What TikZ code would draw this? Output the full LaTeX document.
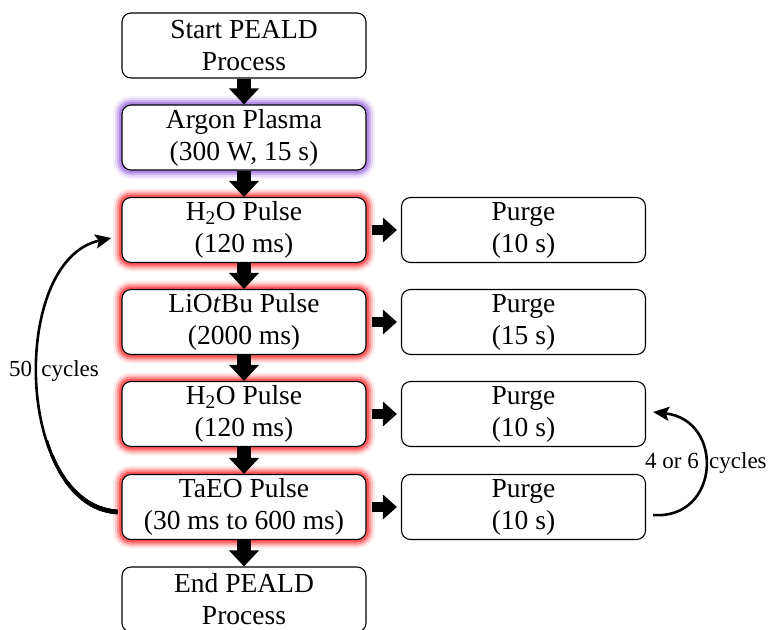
\documentclass[tikz,border=0pt]{standalone}
\usepackage{fontspec}
\setmainfont{Liberation Serif}
\usetikzlibrary{arrows.meta,calc}
\definecolor{glowred}{RGB}{255,55,55}
\definecolor{glowpurple}{RGB}{160,110,225}
\tikzset{
  stepbox/.style={draw=black, line width=1.1pt, fill=white, rounded corners=9pt,
    minimum width=244pt, minimum height=65pt, inner sep=0pt, align=center,
    font=\fontsize{27.5}{32}\selectfont},
  glow/.style={
    preaction={draw=#1, line width=18pt, draw opacity=0.10},
    preaction={draw=#1, line width=14pt, draw opacity=0.2},
    preaction={draw=#1, line width=10pt, draw opacity=0.35},
    preaction={draw=#1, line width=6pt, draw opacity=0.6}},
  flowdown/.style={line width=14pt, -{Triangle[length=16pt,width=29pt]}},
  flowright/.style={line width=10pt, -{Triangle[length=14pt,width=24pt]},
    shorten <=5pt, shorten >=4pt},
  cyclearrow/.style={line width=2.6pt, -{Stealth[length=16pt,width=14pt,inset=3pt]}},
  cyclelabel/.style={font=\fontsize{23}{26}\selectfont, inner sep=0pt}
}
\begin{document}
\begin{tikzpicture}[x=1pt,y=-1pt]
\useasboundingbox (0,0) rectangle (773,629);

% main sequence
\node[stepbox] (start) at (244,45.5) {Start PEALD\\Process};
\node[stepbox, glow=glowpurple] (argon) at (244,137.5) {Argon Plasma\\(300 W, 15 s)};
\node[stepbox, glow=glowred] (h2oa) at (244,230) {H\textsubscript{2}O Pulse\\(120 ms)};
\node[stepbox, glow=glowred] (li) at (244,322) {LiO\textit{t}Bu Pulse\\(2000 ms)};
\node[stepbox, glow=glowred] (h2ob) at (244,414) {H\textsubscript{2}O Pulse\\(120 ms)};
\node[stepbox, glow=glowred] (ta) at (244,507) {TaEO Pulse\\(30 ms to 600 ms)};
\node[stepbox] (finish) at (244,599.5) {End PEALD\\Process};

% purge steps
\node[stepbox] (p1) at (523.5,230) {Purge\\(10 s)};
\node[stepbox] (p2) at (523.5,322) {Purge\\(15 s)};
\node[stepbox] (p3) at (523.5,414) {Purge\\(10 s)};
\node[stepbox] (p4) at (523.5,507) {Purge\\(10 s)};

% downward flow
\draw[flowdown] (start.south) -- (argon.north);
\draw[flowdown] (argon.south) -- (h2oa.north);
\draw[flowdown] (h2oa.south) -- (li.north);
\draw[flowdown] (li.south) -- (h2ob.north);
\draw[flowdown] (h2ob.south) -- (ta.north);
\draw[flowdown] (ta.south) -- (finish.north);

% pulse -> purge
\draw[flowright] (h2oa.east) -- (p1.west);
\draw[flowright] (li.east) -- (p2.west);
\draw[flowright] (h2ob.east) -- (p3.west);
\draw[flowright] (ta.east) -- (p4.west);

% outer cycle loop, growing thicker towards its start
\draw[cyclearrow] ($(ta.west)+(-4,5)$) .. controls +(-103,-7) and +(-102,22) .. ($(h2oa.west)+(-10,8)$);
\foreach \ytop/\lw in {440/2.9, 455/3.2, 470/3.5, 482/3.8, 492/4.1, 500/4.4, 506/4.7} {
  \begin{scope}
    \clip (20,\ytop) rectangle (125,530);
    \draw[line width=\lw pt] ($(ta.west)+(-4,5)$) .. controls +(-103,-7) and +(-102,22) .. ($(h2oa.west)+(-10,8)$);
  \end{scope}
}
\node[cyclelabel, anchor=west] (lab50) at (9,371) {50\hspace{0.4em}cycles};

% inner cycle loop
\draw[cyclearrow] ($(p4.east)+(7,8)$) .. controls +(67,5) and +(72,8) .. ($(p3.east)+(7,-2)$);
\node[cyclelabel, anchor=west] (lab46) at (645,463) {4 or 6\hspace{0.45em}cycles};
\end{tikzpicture}
\end{document}
